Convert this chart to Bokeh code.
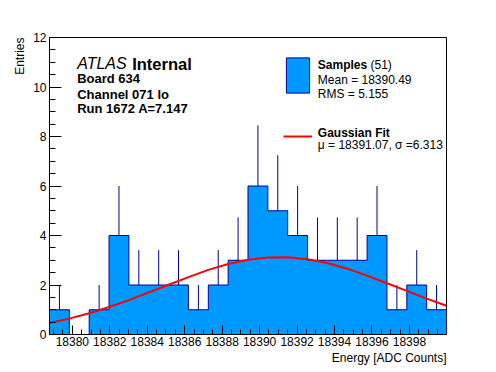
import numpy as np
from bokeh.plotting import figure
from bokeh.models import (Range1d, SingleIntervalTicker, Label, Legend, LegendItem,
                          Title, ColumnDataSource)
from bokeh.embed import file_html
from bokeh.resources import INLINE

# ---------------- data ----------------
bin_low = 18378.78
bin_width = 1.06
counts = [1, 0, 1, 4, 2, 2, 2, 1, 2, 3, 6, 5, 4, 3, 3, 3, 4, 1, 2, 1]
errors = [1.0, 0.0, 1.0, 2.0, 1.41, 1.41, 1.41, 1.0, 1.41, 1.73,
          2.45, 2.24, 2.0, 1.73, 1.73, 1.73, 2.0, 1.0, 1.41, 1.0]
# Gaussian fit curve, read at the bin edges
fit_values = [0.47, 0.64, 0.86, 1.11, 1.39, 1.70, 2.01, 2.32, 2.61, 2.85, 3.02,
              3.11, 3.12, 3.04, 2.89, 2.66, 2.38, 2.07, 1.76, 1.45, 1.16]
n_entries = 51
mean_txt = "18390.49"
rms_txt = "5.155"
fit_mu_txt = "18391.07"
fit_sigma_txt = "6.313"
y_max = 12

FONT = "Liberation Sans"
FILL = "#0099ff"
NAVY = "#000099"

edges = bin_low + bin_width * np.arange(len(counts) + 1)
left = edges[:-1]
right = edges[1:]
centers = 0.5 * (left + right)
cnt = np.array(counts, dtype=float)
err = np.array(errors, dtype=float)

p = figure(width=490, height=370, output_backend="svg", toolbar_location=None,
           x_range=Range1d(edges[0], edges[-1]), y_range=Range1d(0, y_max),
           min_border_left=49, min_border_right=44, min_border_top=37,
           min_border_bottom=36)
p.grid.visible = False
p.outline_line_color = "black"
p.outline_line_width = 1
p.background_fill_color = "white"
p.border_fill_color = "white"

p.xaxis.ticker = SingleIntervalTicker(interval=2, num_minor_ticks=4)
p.yaxis.ticker = SingleIntervalTicker(interval=2, num_minor_ticks=4)
for ax in (p.xaxis[0], p.yaxis[0]):
    ax.major_label_text_font = FONT
    ax.major_label_text_font_size = "12px"
    ax.major_label_text_color = "black"
    ax.axis_line_color = "black"
    ax.major_tick_line_color = "black"
    ax.minor_tick_line_color = "black"
    ax.major_tick_out = 0
    ax.minor_tick_out = 0
    ax.major_label_standoff = 3
p.xaxis.major_label_standoff = 2
p.xaxis.major_tick_in = 9
p.xaxis.minor_tick_in = 5
p.yaxis.major_tick_in = 12
p.yaxis.minor_tick_in = 6

# axis titles (ROOT style: aligned to the end of the axis)
p.add_layout(Title(text="Energy [ADC Counts]", align="right", text_font=FONT,
                   text_font_size="12px", text_font_style="normal",
                   text_color="black", standoff=0), "below")
p.add_layout(Title(text="Entries", align="right", text_font=FONT,
                   text_font_size="12px", text_font_style="normal",
                   text_color="black", standoff=8), "left")

# error bars (drawn first, the fill hides the lower half)
m = cnt > 0
p.segment(x0=centers[m], y0=cnt[m] - err[m], x1=centers[m], y1=cnt[m] + err[m],
          line_color=NAVY, line_width=1)

# histogram as one stepped polygon (no seams between bins) + outline
xs = [edges[0]]
ys = [0.0]
for i in range(len(counts)):
    xs += [left[i], right[i]]
    ys += [cnt[i], cnt[i]]
xs.append(edges[-1])
ys.append(0.0)
p.patch(xs, ys, fill_color=FILL, line_color=None)
p.line(xs, ys, line_color=NAVY, line_width=1)
# fit
fit_r = p.line(edges, fit_values, line_color="red", line_width=2)

# legend proxy for the histogram: a zero-size quad at the axis corner,
# only used for its filled-box-with-outline legend glyph
proxy_src = ColumnDataSource(dict(l=[edges[0]], r=[edges[0]], t=[0.0], b=[0.0]))
proxy = p.quad(left="l", right="r", top="t", bottom="b", source=proxy_src,
               fill_color=FILL, line_color=NAVY, line_width=1, line_alpha=1.0)
leg = Legend(items=[LegendItem(label=" ", renderers=[proxy]),
                    LegendItem(label=" ", renderers=[fit_r])],
             location=(234, 176), glyph_width=29, glyph_height=44, label_height=44,
             spacing=17, padding=0, margin=0, border_line_alpha=0,
             background_fill_alpha=0, label_standoff=0, label_width=0,
             label_text_font_size="2px")
p.add_layout(leg)


def lab(txt, x, y, size, style="normal", align="left", baseline="alphabetic"):
    p.add_layout(Label(x=x, y=y, x_units="screen", y_units="screen", text=txt,
                       text_font=FONT, text_font_size=size, text_font_style=style,
                       text_align=align, text_baseline=baseline,
                       text_color="black"))


# text block (frame coordinates: x from left, y from bottom)
lab("ATLAS", 27.7, 271, "16px", "italic")
lab("Internal", 82.7, 271, "16.5px", "bold")
lab("Board 634", 27.7, 255.7, "13px", "bold")
lab("Channel 071 lo", 27.7, 240.3, "13px", "bold")
lab("Run 1672 A=7.147", 27.7, 226, "13px", "bold")

lab("Samples", 268.3, 270, "12px", "bold")
lab("(%d)" % n_entries, 321, 270, "12px")
lab("Mean = " + mean_txt, 268.3, 255, "12px")
lab("RMS = " + rms_txt, 268.3, 240.7, "12px")
lab("Gaussian Fit", 268.3, 201.5, "12px", "bold")
lab("\u03bc = " + fit_mu_txt + ", \u03c3 =" + fit_sigma_txt, 268.3, 190, "12px")

open("out.html", "w").write(file_html(p, INLINE))
